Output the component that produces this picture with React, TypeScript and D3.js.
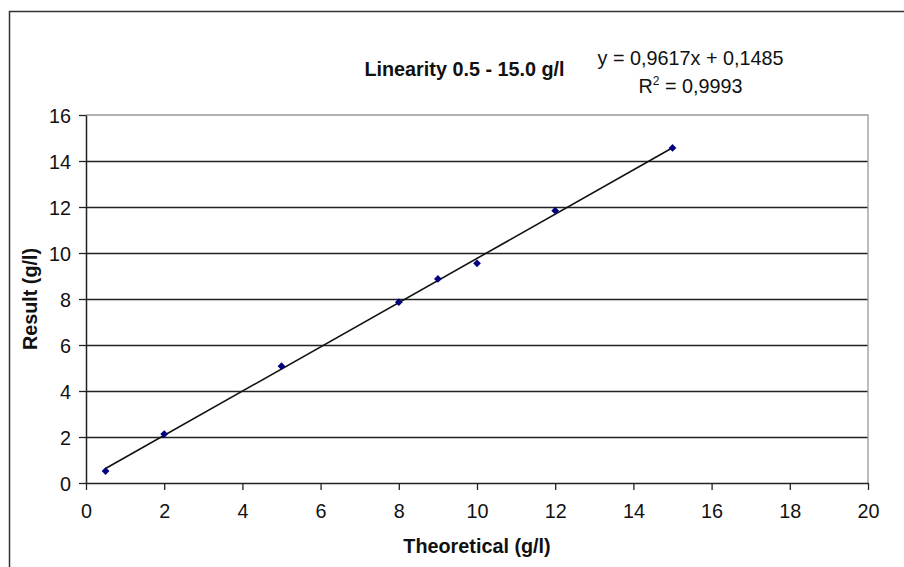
import React, { useEffect, useRef } from "react";
import * as d3 from "d3";

// values
const theoretical = [0.5, 2, 5, 8, 9, 10, 12, 15];
const measured = [0.52, 2.13, 5.08, 7.86, 8.87, 9.55, 11.84, 14.57];
const xTicks = [0, 2, 4, 6, 8, 10, 12, 14, 16, 18, 20];
const yTicks = [0, 2, 4, 6, 8, 10, 12, 14, 16];
const slope = 0.9617;
const intercept = 0.1485;
const titleText = "Linearity 0.5 - 15.0 g/l";
const eqLine1 = "y = 0,9617x + 0,1485";
const eqR2 = "0,9993";

const W = 904;
const H = 567;

const App = () => {
  const svgRef = useRef<SVGSVGElement>(null);

  useEffect(() => {
    const margin = { top: 115, right: 36, bottom: 84, left: 86 };
    const font = "'Liberation Sans', Arial, sans-serif";
    const fs = 19.8;

    const x = d3.scaleLinear().domain([0, 20]).range([margin.left, W - margin.right]);
    const y = d3.scaleLinear().domain([0, 16]).range([H - margin.bottom, margin.top]);

    const svg = d3.select(svgRef.current);
    svg.selectAll("*").remove();

    // outer frame (runs off the right and bottom edge)
    svg
      .append("rect")
      .attr("x", 9.5)
      .attr("y", 11.5)
      .attr("width", W + 20)
      .attr("height", H + 20)
      .attr("fill", "white")
      .attr("stroke", "#333")
      .attr("stroke-width", 1.5);

    // gridlines
    svg
      .append("g")
      .selectAll("line")
      .data(yTicks.filter((d) => d > 0 && d < 16))
      .join("line")
      .attr("x1", x(0))
      .attr("x2", x(20))
      .attr("y1", (d) => Math.round(y(d)) + 0.5)
      .attr("y2", (d) => Math.round(y(d)) + 0.5)
      .attr("stroke", "#222")
      .attr("stroke-width", 1.3);

    // plot area top/right border in grey
    svg
      .append("path")
      .attr("d", `M${x(0)},${y(16)}H${x(20)}V${y(0)}`)
      .attr("fill", "none")
      .attr("stroke", "#999")
      .attr("stroke-width", 1.3);

    // axes
    const xAxis = svg
      .append("g")
      .attr("transform", `translate(0,${y(0)})`)
      .call(d3.axisBottom(x).tickValues(xTicks).tickSize(7).tickSizeOuter(0).tickPadding(14));
    const yAxis = svg
      .append("g")
      .attr("transform", `translate(${x(0)},0)`)
      .call(d3.axisLeft(y).tickValues(yTicks).tickSize(7).tickSizeOuter(0).tickPadding(8));

    [xAxis, yAxis].forEach((g) => {
      g.select(".domain").attr("stroke", "#222").attr("stroke-width", 1.5);
      g.selectAll(".tick line").attr("stroke", "#222").attr("stroke-width", 1.3);
      g.selectAll(".tick text")
        .attr("font-family", font)
        .attr("font-size", fs)
        .attr("fill", "#111");
    });
    yAxis.selectAll(".tick text").attr("dy", "0.36em");

    // trend line
    svg
      .append("line")
      .attr("x1", x(d3.min(theoretical)))
      .attr("y1", y(slope * d3.min(theoretical) + intercept))
      .attr("x2", x(d3.max(theoretical)))
      .attr("y2", y(slope * d3.max(theoretical) + intercept))
      .attr("stroke", "#111")
      .attr("stroke-width", 1.6);

    // markers: small rotated squares
    const marker = d3.symbol().type(d3.symbolSquare).size(30);
    svg
      .append("g")
      .selectAll("path")
      .data(theoretical.map((t, i) => ({ t, v: measured[i] })))
      .join("path")
      .attr("transform", (d) => `translate(${x(d.t)},${y(d.v)}) rotate(45)`)
      .attr("d", marker)
      .attr("fill", "#000080");

    // titles
    svg
      .append("text")
      .attr("x", 464.5)
      .attr("y", 76)
      .attr("text-anchor", "middle")
      .attr("font-family", font)
      .attr("font-size", fs)
      .attr("font-weight", "bold")
      .attr("fill", "#111")
      .text(titleText);

    svg
      .append("text")
      .attr("x", 690.5)
      .attr("y", 65)
      .attr("text-anchor", "middle")
      .attr("font-family", font)
      .attr("font-size", fs)
      .attr("fill", "#111")
      .text(eqLine1);

    const r2 = svg
      .append("text")
      .attr("x", 690.5)
      .attr("y", 93)
      .attr("text-anchor", "middle")
      .attr("font-family", font)
      .attr("font-size", fs)
      .attr("fill", "#111");
    r2.append("tspan").text("R");
    r2.append("tspan").attr("dy", -8).attr("font-size", 12).text("2");
    r2.append("tspan").attr("dy", 8).text(` = ${eqR2}`);

    svg
      .append("text")
      .attr("x", (x(0) + x(20)) / 2)
      .attr("y", 553)
      .attr("text-anchor", "middle")
      .attr("font-family", font)
      .attr("font-size", fs)
      .attr("font-weight", "bold")
      .attr("fill", "#111")
      .text("Theoretical (g/l)");

    svg
      .append("text")
      .attr("transform", `translate(37,${(y(0) + y(16)) / 2}) rotate(-90)`)
      .attr("text-anchor", "middle")
      .attr("font-family", font)
      .attr("font-size", fs)
      .attr("font-weight", "bold")
      .attr("fill", "#111")
      .text("Result (g/l)");
  }, []);

  return (
    <svg
      ref={svgRef}
      width={W}
      height={H}
      style={{ position: "absolute", left: 0, top: 0, background: "white" }}
    ></svg>
  );
};

export default App;
